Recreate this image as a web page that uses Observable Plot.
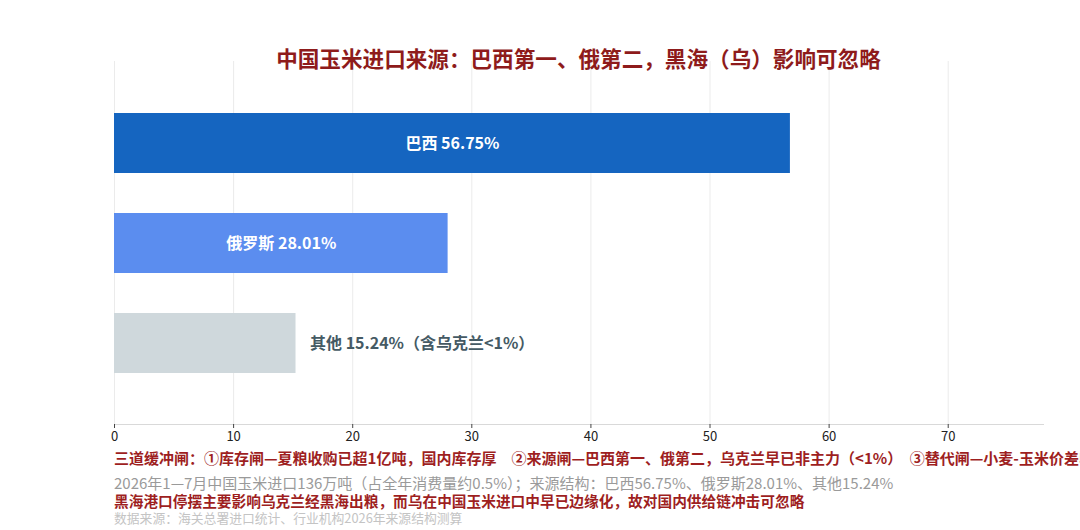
<!DOCTYPE html>
<html>
<head>
<meta charset="utf-8">
<script src="https://cdn.jsdelivr.net/npm/d3@7"></script>
<script src="https://cdn.jsdelivr.net/npm/@observablehq/plot@0.6"></script>
<style>
  html, body { margin: 0; padding: 0; background: #fff; }
  body { width: 1080px; height: 530px; overflow: hidden; position: relative;
         font-family: "Noto Sans CJK SC", "Noto Sans", sans-serif; }
  #chart { position: absolute; left: 0; top: 0; }
  .t { position: absolute; white-space: nowrap; line-height: 1; }
  #title { left: 114px; width: 929px; top: 47px; text-align: center; font-size: 21.6px; font-weight: 700; color: #8e1b1b; }
  #l1 { left: 114px; top: 450px; font-size: 15px; font-weight: 700; color: #9e1f1f; }
  #l2 { left: 114px; top: 475px; font-size: 15px; color: #9a9a9a; }
  #l3 { left: 114px; top: 494px; font-size: 14.7px; font-weight: 700; color: #9e1f1f; }
  #l4 { left: 114px; top: 512px; font-size: 12.8px; color: #c4c4c4; }
</style>
</head>
<body>
<div id="chart"></div>
<div class="t" id="title"></div>
<div class="t" id="l1"></div>
<div class="t" id="l2"></div>
<div class="t" id="l3"></div>
<div class="t" id="l4"></div>
<script>
const titleText = "中国玉米进口来源：巴西第一、俄第二，黑海（乌）影响可忽略";
const categories = ["巴西", "俄罗斯", "其他"];
const shares = [56.75, 28.01, 15.24];
const barLabels = ["巴西 56.75%", "俄罗斯 28.01%", "其他 15.24%（含乌克兰<1%）"];
const barColors = ["#1565c0", "#5b8def", "#cfd8dc"];
const labelInside = [true, true, false];
const xTicks = [0, 10, 20, 30, 40, 50, 60, 70];
const noteLine1 = "三道缓冲闸：①库存闸—夏粮收购已超1亿吨，国内库存厚　②来源闸—巴西第一、俄第二，乌克兰早已非主力（<1%）　③替代闸—小麦-玉米价差收窄，替代充足";
const noteLine2 = "2026年1—7月中国玉米进口136万吨（占全年消费量约0.5%）；来源结构：巴西56.75%、俄罗斯28.01%、其他15.24%";
const noteLine3 = "黑海港口停摆主要影响乌克兰经黑海出粮，而乌在中国玉米进口中早已边缘化，故对国内供给链冲击可忽略";
const sourceLine = "数据来源：海关总署进口统计、行业机构2026年来源结构测算";

const data = categories.map((c, i) => ({
  cat: c, v: shares[i], label: barLabels[i], color: barColors[i], inside: labelInside[i]
}));

const chart = Plot.plot({
  width: 1080,
  height: 450,
  marginLeft: 114,
  marginRight: 37,
  marginTop: 61,
  marginBottom: 26,
  style: { fontFamily: "'Noto Sans CJK SC', 'Noto Sans', sans-serif", background: "transparent" },
  x: { domain: [0, 78], ticks: xTicks, label: null },
  y: { domain: categories, paddingInner: 0.4, paddingOuter: 0.5, axis: null },
  marks: [
    Plot.gridX(xTicks, { stroke: "#ebebeb", strokeOpacity: 1, strokeWidth: 1 }),
    Plot.frame({ anchor: "bottom", stroke: "#d9d9d9" }),
    Plot.axisX({ ticks: xTicks, tickSize: 4, tickPadding: 3, fontSize: 13, color: "#222", stroke: "#444", label: null }),
    Plot.barX(data, { y: "cat", x: "v", fill: d => d.color }),
    Plot.text(data.filter(d => d.inside), {
      y: "cat", x: d => d.v / 2, text: "label", fill: "#fff",
      fontSize: 16, fontWeight: 700, textAnchor: "middle"
    }),
    Plot.text(data.filter(d => !d.inside), {
      y: "cat", x: "v", text: "label", fill: "#455a64",
      fontSize: 16, fontWeight: 700, textAnchor: "start", dx: 14
    })
  ]
});
document.getElementById("chart").appendChild(chart);
document.getElementById("title").textContent = titleText;
document.getElementById("l1").textContent = noteLine1;
document.getElementById("l2").textContent = noteLine2;
document.getElementById("l3").textContent = noteLine3;
document.getElementById("l4").textContent = sourceLine;
</script>
</body>
</html>
